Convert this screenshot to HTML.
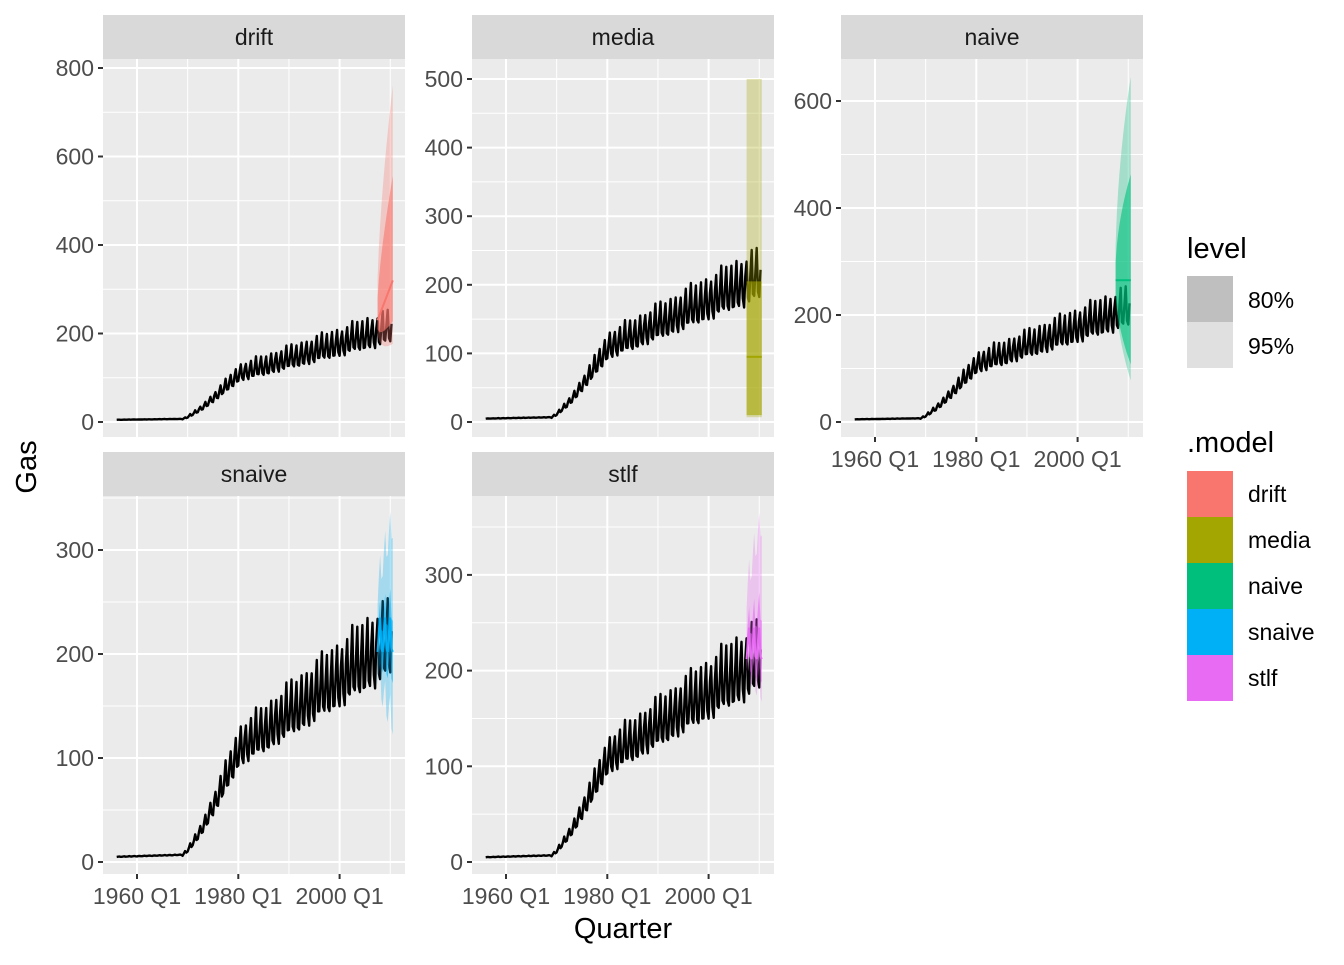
<!DOCTYPE html>
<html><head><meta charset="utf-8"><style>
body{margin:0;background:#fff}
svg text{font-family:"Liberation Sans",Arial,sans-serif}
</style></head><body>
<svg id="s" width="1344" height="960" xmlns="http://www.w3.org/2000/svg"></svg>
<script>
const S=document.getElementById('s');let h='';
const cols={drift:'#F8766D',media:'#A3A500',naive:'#00BF7D',snaive:'#00B0F6',stlf:'#E76BF3'};
function trend(t){
 if(t<1969)return 5+0.15*(t-1956);
 if(t<1980){const u=(t-1969)/11;return 7+100*Math.pow(u,1.3);}
 return 107+3.4*(t-1980);
}
const sf=[-0.13,0.06,0.2,-0.1];
const data=[];let k=0;
for(let y=1956;y<=2010;y++)for(let q=0;q<4;q++){const t=y+q/4;if(t>2010.3)break;
 const T=trend(t);const wob=1+0.25*Math.sin(k*1.7)*Math.cos(k*0.37);k++;
 let v=T*(1+sf[q]*wob*(t<1969?0.2:1));data.push([t,v]);}
const X0=137,XS=101.3/20;
function xp(t,off){return off+X0-103+(t-1960)*XS;}
function panel(px,py,name,ymax,step,y0,ppu,xlab,fc){
 const W=302,H=378;
 h+=`<rect x="${px}" y="${py-44}" width="${W}" height="44" fill="#d9d9d9"/>`;
 h+=`<text x="${px+W/2}" y="${py-14}" font-size="23" text-anchor="middle" fill="#1a1a1a">${name}</text>`;
 h+=`<rect x="${px}" y="${py}" width="${W}" height="${H}" fill="#ebebeb"/>`;
 const yp=v=>y0-v*ppu;
 for(let v=step/2;yp(v)>py;v+=step)h+=`<line x1="${px}" x2="${px+W}" y1="${yp(v)}" y2="${yp(v)}" stroke="#fff" stroke-width="1"/>`;
 for(const t of[1970,1990,2010])h+=`<line x1="${xp(t,px)}" x2="${xp(t,px)}" y1="${py}" y2="${py+H}" stroke="#fff" stroke-width="1"/>`;
 for(let v=0;yp(v)>py;v+=step){h+=`<line x1="${px}" x2="${px+W}" y1="${yp(v)}" y2="${yp(v)}" stroke="#fff" stroke-width="2"/>`;
  h+=`<line x1="${px-5}" x2="${px}" y1="${yp(v)}" y2="${yp(v)}" stroke="#333" stroke-width="2"/>`;
  h+=`<text x="${px-9}" y="${yp(v)+8}" font-size="23" text-anchor="end" fill="#4d4d4d">${v}</text>`;}
 for(const t of[1960,1980,2000]){const x=xp(t,px);h+=`<line x1="${x}" x2="${x}" y1="${py}" y2="${py+H}" stroke="#fff" stroke-width="2"/>`;
  if(xlab){h+=`<line x1="${x}" x2="${x}" y1="${py+H}" y2="${py+H+5}" stroke="#333" stroke-width="2"/>`;
  h+=`<text x="${x}" y="${py+H+30}" font-size="23" text-anchor="middle" fill="#4d4d4d">${t} Q1</text>`;}}
 const c=cols[name];let g='';
 const fa=fc.map(f=>[xp(f[0],px),yp(f[1]),yp(f[2]),yp(f[3]),yp(f[4]),yp(f[5])]);
 const poly=(a,b)=>fa.map(r=>r[0]+','+r[a]).join(' ')+' '+fa.slice().reverse().map(r=>r[0]+','+r[b]).join(' ');
 g+=`<polygon points="${poly(1,5)}" fill="${c}" fill-opacity="0.3"/>`;
 g+=`<polygon points="${poly(2,4)}" fill="${c}" fill-opacity="0.6"/>`;
 h+=`<polyline fill="none" stroke="#000" stroke-width="2.4" stroke-linejoin="round" points="${data.map(d=>xp(d[0],px).toFixed(1)+','+yp(d[1]).toFixed(1)).join(' ')}"/>`;
 h+=g;
 h+=`<polyline fill="none" stroke="${c}" stroke-width="2" points="${fa.map(r=>r[0]+','+r[3]).join(' ')}"/>`;
}
function fcs(fn){const r=[];for(let i=0;i<=12;i++){const t=2007.5+i*0.25;r.push([t,...fn(i/12,i)]);}return r;}
panel(103,59,'drift',800,200,422,88.5/200,false,fcs(u=>{const m=230+90*u,s=Math.sqrt(u+0.05);return[m-140*s,m-90*s,m,m+230*s,m+430*s]}));
panel(472,59,'media',500,100,422,68.6/100,false,[[2007.5,7,10,95,205,500],[2010.5,7,10,95,205,500]]);
panel(841,59,'naive',600,200,422,107/200,true,fcs(u=>{const m=265,s=Math.sqrt(u+0.03);return[m-185*s,m-155*s,m,m+195*s,m+375*s]}));
panel(103,496,'snaive',300,100,862,104/100,true,fcs((u,i)=>{const m=215+25*sf[i%4]*4,s=Math.sqrt(u+0.2)/1.1;return[m-80*s,m-30*s,m,m+30*s,m+110*s]}));
panel(472,496,'stlf',300,100,862,95.7/100,true,fcs((u,i)=>{const m=225+25*sf[i%4]*4,s=Math.sqrt(u+0.2)/1.1;return[m-45*s,m-25*s,m,m+40*s,m+130*s]}));
h+=`<text x="623" y="938" font-size="29" text-anchor="middle" fill="#000">Quarter</text>`;
h+=`<text transform="translate(36,467) rotate(-90)" font-size="29" text-anchor="middle" fill="#000">Gas</text>`;
h+=`<text x="1187" y="258" font-size="29" fill="#000">level</text>`;
h+=`<rect x="1187" y="276" width="46" height="46" fill="#bfbfbf"/><rect x="1187" y="322" width="46" height="46" fill="#e0e0e0"/>`;
h+=`<text x="1248" y="308" font-size="23">80%</text><text x="1248" y="354" font-size="23">95%</text>`;
h+=`<text x="1187" y="452" font-size="29" fill="#000">.model</text>`;
Object.keys(cols).forEach((k,i)=>{h+=`<rect x="1187" y="${471+46*i}" width="46" height="46" fill="${cols[k]}"/><text x="1248" y="${502+46*i}" font-size="23">${k}</text>`;});
S.innerHTML=h;
</script>
</body></html>
